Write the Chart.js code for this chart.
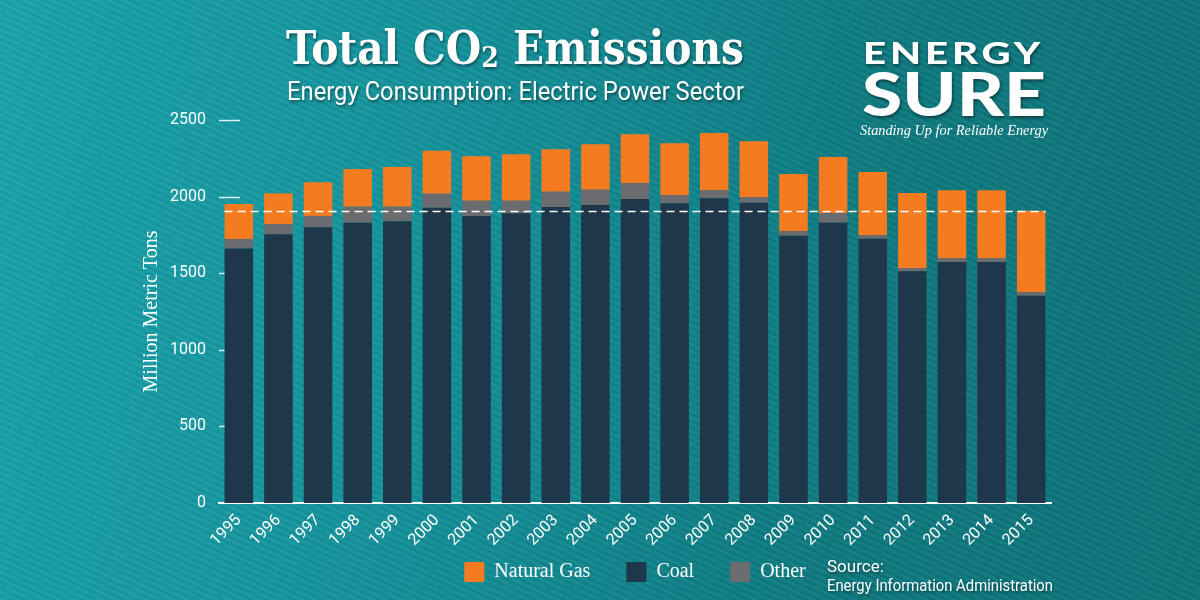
<!DOCTYPE html>
<html>
<head>
<meta charset="utf-8">
<title>Total CO2 Emissions</title>
<script src="https://cdn.jsdelivr.net/npm/chart.js@4.4.1/dist/chart.umd.min.js"></script>
<style>
  html, body { margin: 0; padding: 0; }
  body {
    width: 1200px; height: 600px; overflow: hidden; position: relative;
    background:
      repeating-linear-gradient(25deg, rgba(255,255,255,0.035) 0px, rgba(255,255,255,0.035) 3px, rgba(0,0,0,0.04) 3px, rgba(0,0,0,0.04) 6px),
      linear-gradient(100deg, #1aa3ac 0%, #14929b 35%, #0e7a80 70%, #0c7479 100%);
  }
  #wrap { position: absolute; left: 0; top: 0; width: 1200px; height: 600px; }
  .txt {
    position: absolute; color: #fff; white-space: nowrap; line-height: 1;
    text-shadow: 1px 2px 3px rgba(0,0,0,0.45); transform-origin: left top;
  }
  #title { left: 286px; top: 21px; font: bold 46px "DejaVu Serif Condensed", "DejaVu Serif", serif; }
  #subtitle { left: 287px; top: 77px; font: 25px Roboto, sans-serif; }
  #logo1 { left: 863px; top: 33px; font: 900 31px Lato, "DejaVu Sans", sans-serif; letter-spacing: 3px; }
  #logo2 { left: 862px; top: 57px; font: 900 60px Lato, "DejaVu Sans", sans-serif; }
  #tagline { left: 860px; top: 122px; font: italic 15px "Liberation Serif", serif; text-shadow: none; }
  #src1 { left: 827px; top: 556px; font: 17px Roboto, sans-serif; }
  #src2 { left: 827px; top: 575px; font: 17px Roboto, sans-serif; }
</style>
</head>
<body>
<div id="wrap"><canvas id="co2Chart" width="1200" height="600"></canvas></div>

<div class="txt" id="title" data-w="458">Total CO<sub style="font-size:0.62em;vertical-align:-0.12em">2</sub> Emissions</div>
<div class="txt" id="subtitle" data-w="457">Energy Consumption: Electric Power Sector</div>
<div class="txt" id="logo1" data-w="181">ENERGY</div>
<div class="txt" id="logo2" data-w="184">SURE</div>
<div class="txt" id="tagline" data-w="188">Standing Up for Reliable Energy</div>
<div class="txt" id="src1">Source:</div>
<div class="txt" id="src2" data-w="226">Energy Information Administration</div>

<script>
  // data (million metric tons)
  var years = ['1995', '1996', '1997', '1998', '1999', '2000', '2001', '2002', '2003', '2004',
               '2005', '2006', '2007', '2008', '2009', '2010', '2011', '2012', '2013', '2014', '2015'];
  var coal = [1662, 1754, 1800, 1830, 1839, 1928, 1874, 1891, 1932, 1945,
              1984, 1956, 1989, 1960, 1745, 1830, 1725, 1512, 1573, 1573, 1353];
  var other = [61, 67, 74, 104, 95, 91, 99, 82, 100, 100,
               105, 54, 54, 37, 30, 63, 24, 22, 26, 26, 24];
  var naturalGas = [229, 200, 219, 246, 259, 281, 290, 303, 277, 296,
                    318, 338, 372, 364, 372, 365, 411, 489, 442, 442, 531];
  var yTicks = [0, 500, 1000, 1500, 2000, 2500];
  var referenceLevel = 1908;   // dashed line = 2015 total
  var legendOrder = ['Natural Gas', 'Coal', 'Other'];

  // squeeze the html texts to the widths in the picture
  document.querySelectorAll('.txt[data-w]').forEach(function (el) {
    var w = el.getBoundingClientRect().width;
    el.style.transform = 'scaleX(' + (el.dataset.w / w) + ')';
  });

  var tickDashes = {
    id: 'tickDashes',
    beforeDatasetsDraw: function (chart) {
      var ctx = chart.ctx, y = chart.scales.y, left = chart.chartArea.left;
      ctx.save();
      ctx.strokeStyle = 'rgba(255,255,255,0.85)';
      ctx.lineWidth = 1.5;
      y.ticks.forEach(function (t) {
        if (t.value === 0) return;
        var py = Math.round(y.getPixelForValue(t.value)) + 0.5;
        ctx.beginPath();
        ctx.moveTo(left, py);
        ctx.lineTo(left + 21, py);
        ctx.stroke();
      });
      ctx.restore();
    }
  };

  var refLine = {
    id: 'refLine',
    afterDatasetsDraw: function (chart) {
      var ctx = chart.ctx;
      var bars = chart.getDatasetMeta(0).data;
      var first = bars[0], last = bars[bars.length - 1];
      var py = Math.round(chart.scales.y.getPixelForValue(referenceLevel)) + 0.5;
      ctx.save();
      ctx.strokeStyle = '#ffffff';
      ctx.lineWidth = 1.5;
      ctx.setLineDash([8, 5]);
      ctx.beginPath();
      ctx.moveTo(first.x - first.width / 2, py);
      ctx.lineTo(last.x + last.width / 2, py);
      ctx.stroke();
      ctx.restore();
    }
  };

  // the x axis is squeezed in the layout; let its labels overflow downwards
  var freeXLabels = {
    id: 'freeXLabels',
    afterLayout: function (chart) { chart.scales.x.bottom = chart.height; }
  };

  var ctx = document.getElementById('co2Chart').getContext('2d');

  var co2Chart = new Chart(ctx, {
    type: 'bar',
    data: {
      labels: years,
      datasets: [
        { label: 'Coal', data: coal, backgroundColor: '#1f374b' },
        { label: 'Other', data: other, backgroundColor: '#6b6c6f' },
        { label: 'Natural Gas', data: naturalGas, backgroundColor: '#f47b20' }
      ]
    },
    options: {
      responsive: false,
      animation: false,
      layout: { padding: { left: 140, right: 149, top: 120, bottom: 8 } },
      datasets: { bar: { categoryPercentage: 1, barPercentage: 0.72 } },
      scales: {
        x: {
          stacked: true,
          grid: { display: false, drawTicks: false },
          border: { display: true, color: '#ffffff', width: 2 },
          ticks: {
            color: '#ffffff', font: { family: 'Roboto', size: 16 },
            minRotation: 45, maxRotation: 45, padding: 8
          },
          afterFit: function (scale) { scale.height = 23; }
        },
        y: {
          stacked: true,
          min: 0, max: 2500,
          afterBuildTicks: function (axis) {
            axis.ticks = yTicks.map(function (v) { return { value: v }; });
          },
          grid: { display: false, drawTicks: false },
          border: { display: false },
          ticks: {
            color: '#ffffff', font: { family: 'Roboto', size: 16 }, padding: 13,
            callback: function (v) { return String(v); }
          },
          title: {
            display: true, text: 'Million Metric Tons', color: '#ffffff',
            font: { family: 'Liberation Serif', size: 20 }, padding: { top: 0, bottom: 8 }
          },
          afterFit: function (scale) { scale.width = 79; }
        }
      },
      plugins: {
        legend: {
          position: 'bottom',
          fullSize: false,
          labels: {
            color: '#ffffff',
            font: { family: 'Liberation Serif', size: 20 },
            boxWidth: 20, boxHeight: 20, padding: 36,
            sort: function (a, b) {
              return legendOrder.indexOf(a.text) - legendOrder.indexOf(b.text);
            }
          }
        },
        tooltip: { enabled: false }
      }
    },
    plugins: [tickDashes, refLine, freeXLabels]
  });
</script>
</body>
</html>
